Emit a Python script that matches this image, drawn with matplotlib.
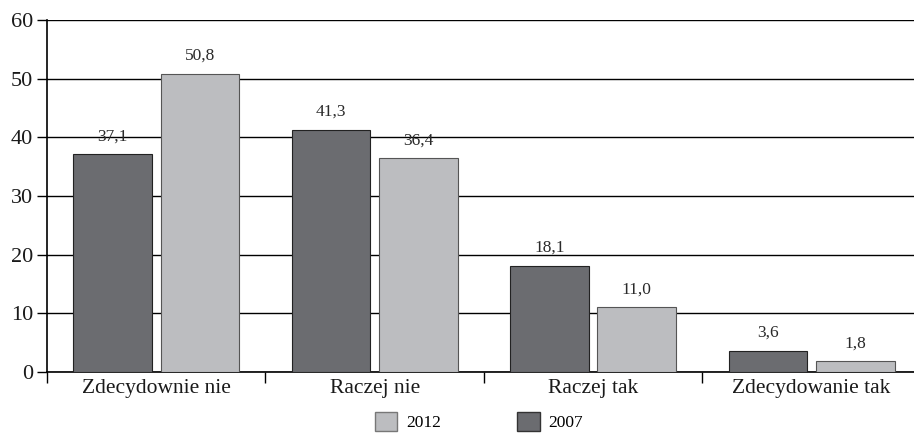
import numpy as np
import matplotlib.pyplot as plt
from matplotlib.patches import Patch

categories = ['Zdecydownie nie', 'Raczej nie', 'Raczej tak', 'Zdecydowanie tak']
values_2007 = [37.1, 41.3, 18.1, 3.6]
values_2012 = [50.8, 36.4, 11.0, 1.8]
labels_2007 = ['37,1', '41,3', '18,1', '3,6']
labels_2012 = ['50,8', '36,4', '11,0', '1,8']

dark = '#6b6c70'
light = '#bcbdc0'

plt.rcParams['font.family'] = ['Liberation Serif', 'DejaVu Serif']

fig = plt.figure(figsize=(9.14, 4.36), dpi=100)
ax = fig.add_axes([0.0514, 0.147, 0.956, 0.807])

x = np.arange(len(categories))
w = 0.36
off = 0.2
b1 = ax.bar(x - off, values_2007, w, color=dark, edgecolor='#222222', linewidth=0.8, zorder=3)
b2 = ax.bar(x + off, values_2012, w, color=light, edgecolor='#555555', linewidth=0.8, zorder=3)

# etykiety wartosci nad slupkami
for bars, labs in [(b1, labels_2007), (b2, labels_2012)]:
    for r, t in zip(bars, labs):
        ax.text(r.get_x() + r.get_width() / 2, r.get_height() + 3.1, t,
                ha='center', va='center', fontsize=12.5, color='#2a2a2a')

ax.set_xlim(-0.5, 3.5)
ax.set_ylim(0, 60)
ax.set_yticks(range(0, 61, 10))
ax.yaxis.grid(True, color='black', linewidth=1.0, zorder=0)
ax.set_axisbelow(True)

ax.set_xticks(x)
ax.set_xticklabels(categories, fontsize=15.5, color='#1a1a1a')
ax.tick_params(axis='x', length=0, pad=5)
ax.set_xticks(np.arange(-0.5, 3.6, 1), minor=True)
ax.tick_params(axis='x', which='minor', length=8, width=1, direction='out')
ax.tick_params(axis='y', labelsize=16, length=7, width=1, pad=3, labelcolor='#1a1a1a')

for s in ['top', 'right']:
    ax.spines[s].set_visible(False)
ax.spines['left'].set_linewidth(1.2)
ax.spines['bottom'].set_linewidth(1.2)

handles = [Patch(facecolor=light, edgecolor='#777777', label='2012'),
           Patch(facecolor=dark, edgecolor='#333333', label='2007')]
fig.legend(handles=handles, loc='lower center', bbox_to_anchor=(0.524, -0.025), ncol=2,
           frameon=False, fontsize=12.5, handlelength=1.3, handleheight=1.3,
           columnspacing=4.4, handletextpad=0.5)

fig.savefig('out.png', dpi=100)
